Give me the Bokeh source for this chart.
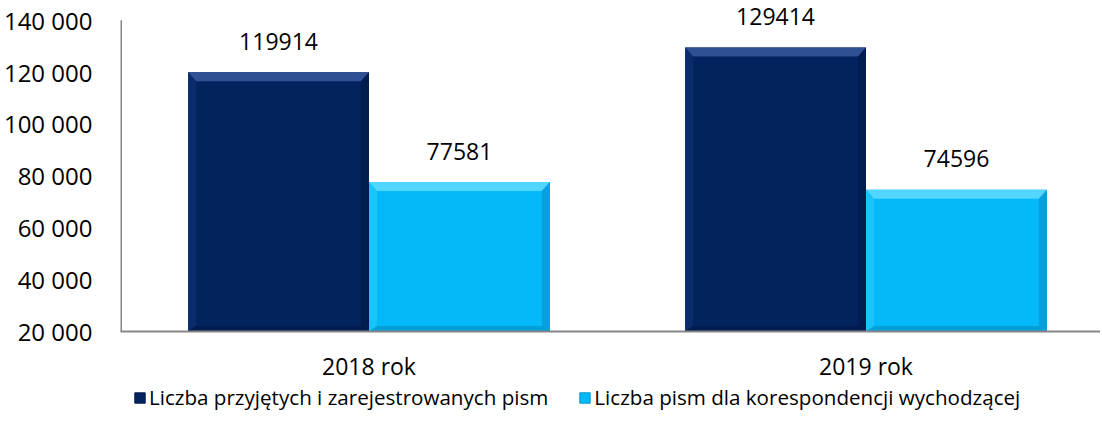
from bokeh.plotting import figure
from bokeh.layouts import column
from bokeh.models import FixedTicker, Legend, LegendItem, ColumnDataSource
from bokeh.core.properties import value
from bokeh.embed import file_html
from bokeh.resources import INLINE

# ---- data ----
categories = ["2018 rok", "2019 rok"]
series_names = ["Liczba przyjętych i zarejestrowanych pism",
                "Liczba pism dla korespondencji wychodzącej"]
received = [119914, 129414]
outgoing = [77581, 74596]
y_ticks = [20000, 40000, 60000, 80000, 100000, 120000, 140000]
y_tick_labels = ["20 000", "40 000", "60 000", "80 000", "100 000", "120 000", "140 000"]

FONT = "Open Sans"
Y_MIN, Y_MAX = 20000, 140000
Y_TOP = 146800          # headroom above the last tick for data labels
W = 1094
LEFT, TOP = 114, 2
FRAME_W, FRAME_H = W - LEFT, 329
BOTTOM = 45
H2 = 40
cat_px = 497.0
x_end = FRAME_W / cat_px

p = figure(frame_width=FRAME_W, frame_height=FRAME_H, output_backend="svg",
           toolbar_location=None, x_range=(0, x_end), y_range=(Y_MIN, Y_TOP),
           min_border_left=LEFT, min_border_right=0, min_border_top=TOP,
           min_border_bottom=BOTTOM)
p.outline_line_color = None
p.xgrid.visible = False
p.ygrid.visible = False

xc = [i + 0.5 for i in range(len(categories))]
bw = 0.364
colors = [
    ("#03235F", "#2F5092", "#0F3272", "#021A48", "#02184A"),
    ("#05B9F8", "#52D6FF", "#2CC8FC", "#0497CE", "#0494C8"),
]
series = [(received, -bw / 2, colors[0]), (outgoing, bw / 2, colors[1])]
px_y = (Y_TOP - Y_MIN) / float(FRAME_H)
bx = 8 / cat_px
by = 9 * px_y

# y axis line only up to the last tick
p.segment(x0=[0], y0=[Y_MIN], x1=[0], y1=[Y_MAX], line_color="#868686", line_width=3)

for vals, off, (main, top_c, left_c, right_c, bot_c) in series:
    xs = [c + off for c in xc]
    p.vbar(x=xs, top=vals, bottom=Y_MIN, width=bw, fill_color=main, line_color=None)
    tx, tyy, lx, ly, rx, ry, bxs, bys = [], [], [], [], [], [], [], []
    for x, v in zip(xs, vals):
        l, rgt = x - bw / 2, x + bw / 2
        tx.append([l, rgt, rgt - bx, l + bx]); tyy.append([v, v, v - by, v - by])
        lx.append([l, l + bx, l + bx, l]); ly.append([v, v - by, Y_MIN + by * 0.6, Y_MIN])
        rx.append([rgt, rgt - bx, rgt - bx, rgt]); ry.append([v, v - by, Y_MIN + by * 0.6, Y_MIN])
        bxs.append([l, rgt, rgt - bx, l + bx]); bys.append([Y_MIN, Y_MIN, Y_MIN + by * 0.6, Y_MIN + by * 0.6])
    p.patches(tx, tyy, fill_color=top_c, line_color=None)
    p.patches(lx, ly, fill_color=left_c, line_color=None, fill_alpha=0.6)
    p.patches(rx, ry, fill_color=right_c, line_color=None, fill_alpha=0.7)
    p.patches(bxs, bys, fill_color=bot_c, line_color=None, fill_alpha=0.7)
    src = ColumnDataSource(dict(x=xs, y=vals, t=[str(v) for v in vals]))
    p.text(x="x", y="y", text="t", source=src, text_align="center",
           text_baseline="alphabetic", y_offset=-31, text_font=value(FONT),
           text_font_size="23px", text_color="black")

p.yaxis.ticker = FixedTicker(ticks=y_ticks)
p.yaxis.major_label_overrides = {t: l for t, l in zip(y_ticks, y_tick_labels)}
p.yaxis.major_tick_line_color = None
p.yaxis.minor_tick_line_color = None
p.yaxis.axis_line_color = None
p.yaxis.major_label_text_font = FONT
p.yaxis.major_label_text_font_size = "24px"
p.yaxis.major_label_text_color = "black"
p.yaxis.major_label_standoff = 22

p.xaxis.ticker = FixedTicker(ticks=xc)
p.xaxis.major_label_overrides = {c: l for c, l in zip(xc, categories)}
p.xaxis.major_tick_line_color = None
p.xaxis.minor_tick_line_color = None
p.xaxis.axis_line_color = "#868686"
p.xaxis.axis_line_width = 2
p.xaxis.major_label_text_font = FONT
p.xaxis.major_label_text_font_size = "23px"
p.xaxis.major_label_text_color = "black"
p.xaxis.major_label_standoff = 12

# legend strip
q = figure(frame_width=FRAME_W, frame_height=H2, output_backend="svg",
           toolbar_location=None, x_range=(0, 1), y_range=(0, 1),
           min_border_left=LEFT, min_border_right=0, min_border_top=0,
           min_border_bottom=0)
q.axis.visible = False
q.grid.visible = False
q.outline_line_color = None
leg_r = [q.vbar(x=[-5], top=[0], bottom=[0], width=0.1, fill_color=c[0], line_color=c[3])
         for c in colors]
legend = Legend(items=[LegendItem(label=n, renderers=[r]) for n, r in zip(series_names, leg_r)],
                location=(95, 13), orientation="horizontal",
                border_line_color=None, background_fill_alpha=0,
                label_text_font=FONT, label_text_font_size="20.6px",
                label_text_color="black", glyph_width=13, glyph_height=13,
                label_standoff=3, spacing=30, padding=0, margin=0)
q.add_layout(legend, "center")

layout = column(p, q, spacing=0)
open("out.html", "w").write(file_html(layout, INLINE))
